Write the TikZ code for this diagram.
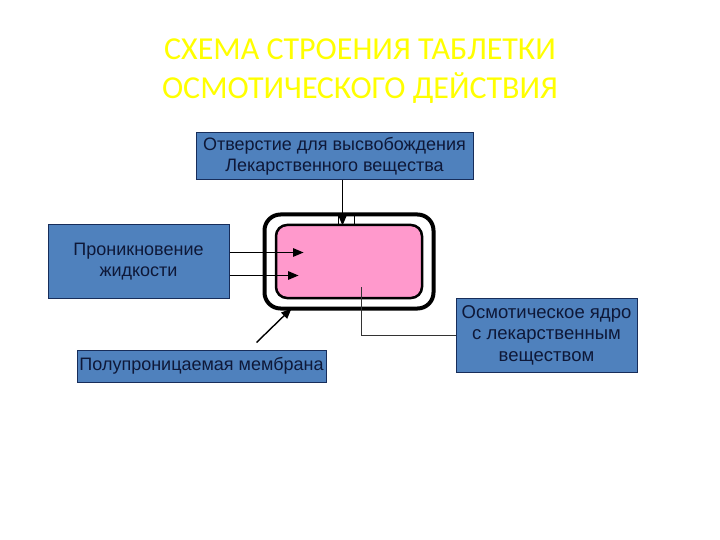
\documentclass[tikz,border=0pt]{standalone}
\usepackage{fontspec}
\setmainfont{Liberation Sans}
\newfontfamily\titlefont{Carlito}
\usepackage{tikz}
\usetikzlibrary{arrows,positioning}
\definecolor{boxblue}{RGB}{79,129,189}
\definecolor{boxline}{RGB}{23,45,90}
\definecolor{boxtext}{RGB}{14,24,56}
\definecolor{corepink}{RGB}{255,153,204}
\definecolor{titleyellow}{RGB}{255,255,0}
\tikzset{
  bluebox/.style = {fill = boxblue, draw = boxline, line width = 1pt, inner sep = 0pt, align = center,
    text = boxtext, font = \fontsize{18}{21.5}\selectfont},
  pointer/.style = {->, line width = 1.4pt, black}
}
\begin{document}
\begin{tikzpicture}[> = triangle 45, x = 1pt, y = -1pt]
    \useasboundingbox (0,0) rectangle (720,540);
    \node at (360,71) [titleyellow, align = center, font = \titlefont\fontsize{32}{38.5}\selectfont] (titre) {СХЕМА СТРОЕНИЯ ТАБЛЕТКИ\\ОСМОТИЧЕСКОГО ДЕЙСТВИЯ};
    \node at (334.5,156.5) [bluebox, minimum width = 277pt, minimum height = 47pt] (otv) {Отверстие для высвобождения\\Лекарственного вещества};
    \node at (138.5,261.5) [bluebox, minimum width = 181pt, minimum height = 73pt] (pron) {Проникновение\\жидкости};
    \node at (201.5,366) [bluebox, minimum width = 249pt, minimum height = 32pt] (memb) {Полупроницаемая мембрана};
    \node at (546.5,335) [bluebox, minimum width = 181pt, minimum height = 74pt, font = \fontsize{18.5}{21.5}\selectfont] (yadro) {Осмотическое ядро\\с лекарственным\\веществом};
    \node at (349,261.5) [draw, line width = 4pt, rounded corners = 16pt, minimum width = 169pt, minimum height = 94pt] (obol) {};
    \node at (349,261.5) [fill = corepink, draw, line width = 2.5pt, rounded corners = 11pt, minimum width = 146pt, minimum height = 73pt] (core) {};
    % отверстие в оболочке
    \draw[line width = 0.8pt] (obol.north)++(-11,2) -- ++(0,11);
    \draw[line width = 0.8pt] (obol.north)++(5,2) -- ++(0,11);
    \draw[pointer] (otv.south)++(8,0) -- ++(0,45);
    \draw[pointer] (pron.east)++(0,-9) -- ++(74,0);
    \draw[pointer] (pron.east)++(0,14) -- ++(69,0);
    \draw[pointer] (memb.north)++(55,-7) -- ++(35,-34);
    \draw[black!80, line width = 0.8pt] (core.south)++(12,-12) |- (yadro.west);
  \end{tikzpicture}
\end{document}
